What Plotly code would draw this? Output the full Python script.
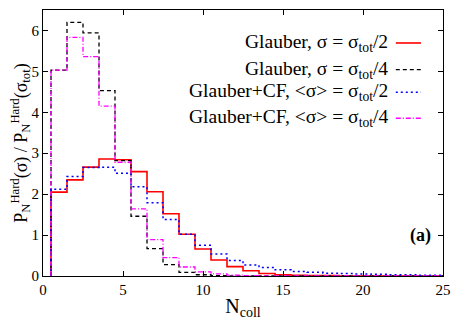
import plotly.graph_objects as go

# bin centres (N_coll) and ratio values
n_coll = list(range(1, 26))

glauber_half = [2.05, 2.35, 2.66, 2.86, 2.84, 2.55, 2.06, 1.52, 1.02, 0.66, 0.39, 0.23,
                0.13, 0.06, 0.03, 0.02, 0.01, 0.01, 0.0, 0.0, 0.0, 0.0, 0.0, 0.0, 0.0]
glauber_quarter = [5.03, 6.20, 5.94, 4.53, 2.82, 1.46, 0.67, 0.28, 0.09, 0.03, 0.01, 0.0,
                   0.0, 0.0, 0.0, 0.0, 0.0, 0.0, 0.0, 0.0, 0.0, 0.0, 0.0, 0.0, 0.0]
cf_half = [2.12, 2.43, 2.65, 2.66, 2.51, 2.18, 1.79, 1.38, 1.02, 0.75, 0.54, 0.38,
           0.27, 0.21, 0.15, 0.11, 0.09, 0.07, 0.06, 0.05, 0.04, 0.03, 0.03, 0.02, 0.02]
cf_quarter = [5.03, 5.83, 5.36, 4.15, 2.78, 1.64, 0.89, 0.45, 0.22, 0.10, 0.05, 0.02,
              0.01, 0.0, 0.0, 0.0, 0.0, 0.0, 0.0, 0.0, 0.0, 0.0, 0.0, 0.0, 0.0]

labels = [
    "Glauber, σ = σ<sub>tot</sub>/2",
    "Glauber, σ = σ<sub>tot</sub>/4",
    "Glauber+CF, <σ> = σ<sub>tot</sub>/2",
    "Glauber+CF, <σ> = σ<sub>tot</sub>/4",
]
series = [glauber_half, glauber_quarter, cf_half, cf_quarter]
colors = ["#ff0000", "#000000", "#0000ff", "#ff00ff"]
dashes = ["solid", "4px,3px", "2px,3px", "5px,2px,1px,2px"]
widths = [1.6, 1.3, 1.5, 1.3]

FONT = "Liberation Serif"

fig = go.Figure()

# step histograms: start at 0 on left edge, then hv steps over bin edges
for vals, col, dsh, w in zip(series, colors, dashes, widths):
    edges = [n - 0.5 for n in n_coll] + [n_coll[-1] + 0.5]
    xs = [edges[0]] + edges
    ys = [0] + vals + [vals[-1]]
    fig.add_trace(go.Scatter(x=xs, y=ys, mode="lines", line_shape="hv",
                             line=dict(color=col, dash=dsh, width=w),
                             showlegend=False, hoverinfo="skip"))

# legend drawn gnuplot-style: right-aligned text, sample line on the right
row_y = [0.876, 0.776, 0.691, 0.593]
for lab, col, dsh, w, yy in zip(labels, colors, dashes, widths, row_y):
    fig.add_annotation(x=0.868, y=yy, xref="paper", yref="paper", text=lab,
                       showarrow=False, xanchor="right", yanchor="middle",
                       font=dict(family=FONT, size=19.5, color="black"))
    fig.add_shape(type="line", xref="paper", yref="paper", x0=0.882, x1=0.945,
                  y0=yy, y1=yy, line=dict(color=col, dash=dsh, width=w))

fig.add_annotation(x=23.6, y=1.0, text="<b>(a)</b>", showarrow=False,
                   font=dict(family=FONT, size=18, color="black"))

axis_common = dict(showline=True, linecolor="black", linewidth=1, mirror="ticks",
                   ticks="inside", ticklen=5, tickcolor="black", showgrid=False,
                   zeroline=False, tickfont=dict(family=FONT, size=15, color="black"))

fig.update_xaxes(range=[0, 25], dtick=5, **axis_common,
                 title=dict(text="N<sub>coll</sub>", standoff=2,
                            font=dict(family=FONT, size=20, color="black")))
fig.update_yaxes(range=[0, 6.5], dtick=1, **axis_common,
                 title=dict(text="P<sub>N</sub><sup>Hard</sup>(σ) / P<sub>N</sub><sup>Hard</sup>(σ<sub>tot</sub>)",
                            standoff=0, font=dict(family=FONT, size=18, color="black")))

# page body has an 8px margin, so shift the figure back by that amount
fig.update_layout(width=455, height=312, margin=dict(l=35, r=20, t=2, b=44),
                  plot_bgcolor="white", paper_bgcolor="white")

fig.write_html("out.html")
